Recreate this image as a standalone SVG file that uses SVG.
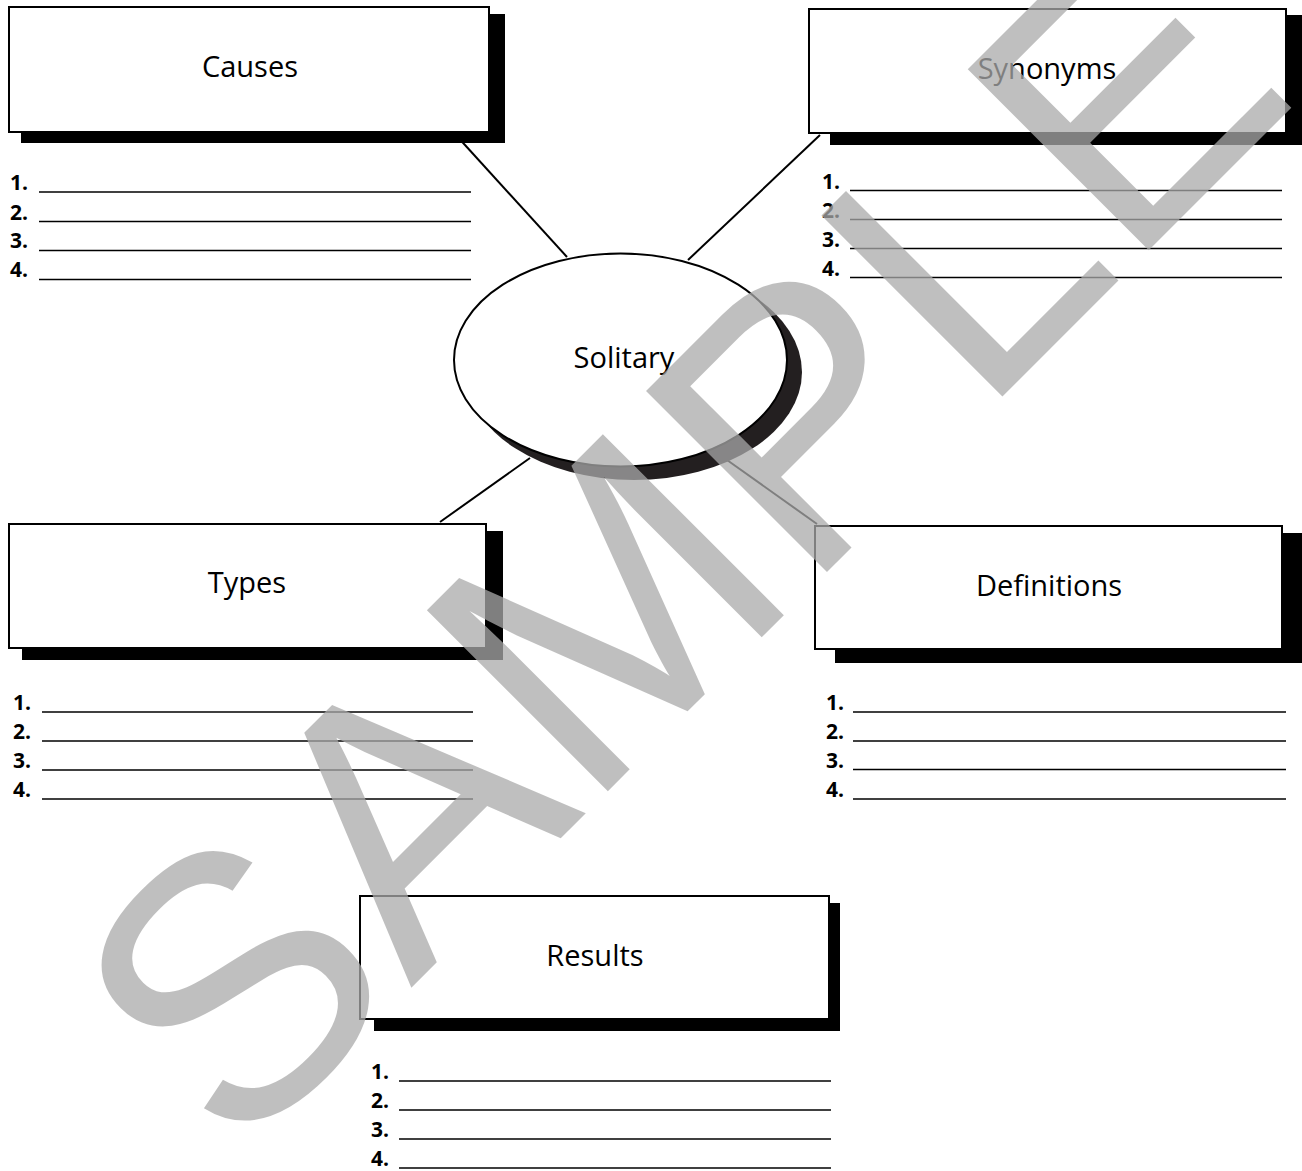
<svg xmlns="http://www.w3.org/2000/svg" width="1302" height="1171" viewBox="0 0 1302 1171">
<style>
.box{fill:#fff;stroke:#000;stroke-width:2}
.sh{fill:#000}
.title{font-family:"Open Sans","Liberation Sans",sans-serif;font-size:29px;fill:#000;text-anchor:middle}
.num{font-family:"Open Sans","Liberation Sans",sans-serif;font-size:21px;font-weight:bold;fill:#000}
.ul{stroke:#000;stroke-width:1.4}
.conn{stroke:#000;stroke-width:2;fill:none}
.wm{font-family:"Liberation Sans",Arial,sans-serif;font-size:372px;fill:#aaaaaa;fill-opacity:0.75;text-anchor:middle}
</style>
<rect width="1302" height="1171" fill="#fff"/>
<g id="connectors">
<line class="conn" x1="455" y1="134" x2="567" y2="257"/>
<line class="conn" x1="820" y1="135" x2="688" y2="260"/>
<line class="conn" x1="440" y1="522" x2="530" y2="458"/>
<line class="conn" x1="727" y1="460" x2="817" y2="524"/>
</g>
<g id="center">
<ellipse cx="634" cy="372" rx="168" ry="108" fill="#231f20"/>
<ellipse cx="620.5" cy="360" rx="166.5" ry="106.5" fill="#fff" stroke="#000" stroke-width="2"/>
<text class="title" x="624" y="368">Solitary</text>
</g>
<g id="causes">
<rect class="sh" x="21" y="14" width="484" height="129"/>
<rect class="box" x="9" y="7" width="480" height="125"/>
<text class="title" x="250" y="77">Causes</text>
<text class="num" x="10" y="190">1.</text><line class="ul" x1="39" y1="192" x2="471" y2="192"/>
<text class="num" x="10" y="220">2.</text><line class="ul" x1="39" y1="221.5" x2="471" y2="221.5"/>
<text class="num" x="10" y="248">3.</text><line class="ul" x1="39" y1="250.5" x2="471" y2="250.5"/>
<text class="num" x="10" y="277">4.</text><line class="ul" x1="39" y1="279.5" x2="471" y2="279.5"/>
</g>
<g id="synonyms">
<rect class="sh" x="830" y="15" width="472" height="130"/>
<rect class="box" x="809" y="9" width="477" height="124"/>
<text class="title" x="1047" y="79">Synonyms</text>
<text class="num" x="822" y="189">1.</text><line class="ul" x1="850" y1="190.5" x2="1282" y2="190.5"/>
<text class="num" x="822" y="218">2.</text><line class="ul" x1="850" y1="219.5" x2="1282" y2="219.5"/>
<text class="num" x="822" y="247">3.</text><line class="ul" x1="850" y1="248.5" x2="1282" y2="248.5"/>
<text class="num" x="822" y="276">4.</text><line class="ul" x1="850" y1="277.5" x2="1282" y2="277.5"/>
</g>
<g id="types">
<rect class="sh" x="22" y="531" width="481" height="129"/>
<rect class="box" x="9" y="524" width="477" height="124"/>
<text class="title" x="247" y="593">Types</text>
<text class="num" x="13" y="710">1.</text><line class="ul" x1="42" y1="712" x2="473" y2="712"/>
<text class="num" x="13" y="739">2.</text><line class="ul" x1="42" y1="741" x2="473" y2="741"/>
<text class="num" x="13" y="768">3.</text><line class="ul" x1="42" y1="770" x2="473" y2="770"/>
<text class="num" x="13" y="797">4.</text><line class="ul" x1="42" y1="799" x2="473" y2="799"/>
</g>
<g id="definitions">
<rect class="sh" x="835" y="533" width="467" height="130"/>
<rect class="box" x="815" y="526" width="467" height="123"/>
<text class="title" x="1049" y="596">Definitions</text>
<text class="num" x="826" y="710">1.</text><line class="ul" x1="853" y1="712" x2="1286" y2="712"/>
<text class="num" x="826" y="739">2.</text><line class="ul" x1="853" y1="741" x2="1286" y2="741"/>
<text class="num" x="826" y="768">3.</text><line class="ul" x1="853" y1="769.5" x2="1286" y2="769.5"/>
<text class="num" x="826" y="797">4.</text><line class="ul" x1="853" y1="799" x2="1286" y2="799"/>
</g>
<g id="results">
<rect class="sh" x="374" y="903" width="466" height="128"/>
<rect class="box" x="360" y="896" width="469" height="123"/>
<text class="title" x="595" y="966">Results</text>
<text class="num" x="371" y="1079">1.</text><line class="ul" x1="399" y1="1081" x2="831" y2="1081"/>
<text class="num" x="371" y="1108">2.</text><line class="ul" x1="399" y1="1110" x2="831" y2="1110"/>
<text class="num" x="371" y="1137">3.</text><line class="ul" x1="399" y1="1139" x2="831" y2="1139"/>
<text class="num" x="371" y="1166">4.</text><line class="ul" x1="399" y1="1168" x2="831" y2="1168"/>
</g>
<g id="watermark">
<text class="wm" transform="translate(769,630) rotate(-45)" x="0" y="0">SAMPLE</text>
</g>
</svg>
